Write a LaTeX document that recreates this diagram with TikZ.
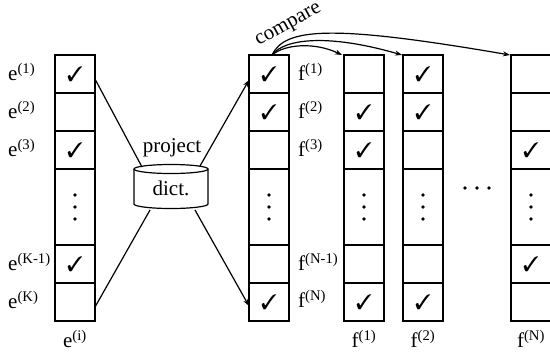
\documentclass[tikz,border=0pt]{standalone}
\usepackage{fontspec}
\setmainfont{Liberation Serif}
\usepackage{pifont}
\usetikzlibrary{arrows.meta}

\begin{document}
\begin{tikzpicture}[x=1bp, y=-1bp,
  font=\fontsize{21bp}{25bp}\selectfont,
  cell/.style={draw, line width=1.4bp, minimum width=40bp, inner sep=0pt,
               outer sep=0pt, anchor=north west},
  tick/.style={inner sep=0pt, font=\fontsize{21bp}{25bp}\selectfont},
  lbl/.style={anchor=west, inner sep=0pt},
  link/.style={line width=1.2bp},
  arr/.style={line width=1.2bp, -{Stealth[length=7bp, width=5bp]}},
  dot/.style={fill=black}
]
\clip (0,0) rectangle (550,351);

% columns of cells: e = source vector, f = projected vector, g/h/n = stored vectors
\foreach \c/\x in {e/55, f/249, g/344, h/403, n/511} {
  \foreach \r/\y/\h in {1/55/38, 2/93/38, 3/131/38, 4/169/76, 5/245/38, 6/283/38} {
    \node[cell, minimum height=\h bp] (\c\r) at (\x,\y) {};
  }
  % vertical ellipsis in the middle cell
  \fill[dot] ([yshift=-12bp]\c4.center) circle[radius=1.8bp];
  \fill[dot] (\c4.center) circle[radius=1.8bp];
  \fill[dot] ([yshift=12bp]\c4.center) circle[radius=1.8bp];
}

% check marks
\foreach \n in {e1, e3, e5, f1, f2, f6, g2, g3, g6, h1, h2, h6, n3, n5}
  \node[tick] at (\n.center) {\ding{51}};

% row labels
\node[lbl] (le1) at (8,72)  {e\textsuperscript{(1)}};
\node[lbl] (le2) at (8,110) {e\textsuperscript{(2)}};
\node[lbl] (le3) at (8,148) {e\textsuperscript{(3)}};
\node[lbl] (le5) at (8,262) {e\textsuperscript{(K-1)}};
\node[lbl] (le6) at (8,300) {e\textsuperscript{(K)}};

\node[lbl] (lf1) at (298,72)  {f\textsuperscript{(1)}};
\node[lbl] (lf2) at (298,110) {f\textsuperscript{(2)}};
\node[lbl] (lf3) at (298,148) {f\textsuperscript{(3)}};
\node[lbl] (lf5) at (298,262) {f\textsuperscript{(N-1)}};
\node[lbl] (lf6) at (298,299) {f\textsuperscript{(N)}};

% column captions
\node (ce) at (75,339)  {e\textsuperscript{(i)}};
\node (cg) at (364,339) {f\textsuperscript{(1)}};
\node (ch) at (423,339) {f\textsuperscript{(2)}};
\node (cn) at (531,339) {f\textsuperscript{(N)}};

% horizontal ellipsis between stored vectors
\foreach \xx in {465, 477, 489}
  \fill[dot] (\xx,188) circle[radius=1.8bp];

% dictionary cylinder
\draw[line width=1.2bp, fill=white] (134,169) -- (134,204)
  arc[start angle=180, end angle=360, x radius=37bp, y radius=4.5bp]
  -- (208,169);
\draw[line width=1.2bp] (171,169) ellipse[x radius=37bp, y radius=4.5bp];
\node (dict) at (171,188) {dict.};
\node (proj) at (172,148) {project};

\coordinate (dtl) at (142,167);
\coordinate (dbl) at (150,210);
\coordinate (dtr) at (200,166);
\coordinate (dbr) at (195,210);

% projection links
\draw[link] ([yshift=-5bp]e1.east) -- (dtl);
\draw[link] ([yshift=-5bp]e6.east) -- (dbl);
\draw[arr] (dtr) -- ([yshift=-6bp]f1.west);
\draw[arr] (dbr) -- ([yshift=-4bp]f6.west);

% comparison arrows
\coordinate (cmp) at ([xshift=3bp]f1.north);
\draw[arr] (cmp) .. controls (285,44) and (315,42) .. ([xshift=-2bp]g1.north west);
\draw[arr] (cmp) .. controls (285,38) and (330,34) .. ([xshift=-1bp]h1.north west);
\draw[arr] (cmp) .. controls (285,28) and (330,24) .. ([xshift=-1bp]n1.north west);
\node[rotate=29, inner sep=0pt] (cmpl) at (289,26) {compare};
\end{tikzpicture}
\end{document}
